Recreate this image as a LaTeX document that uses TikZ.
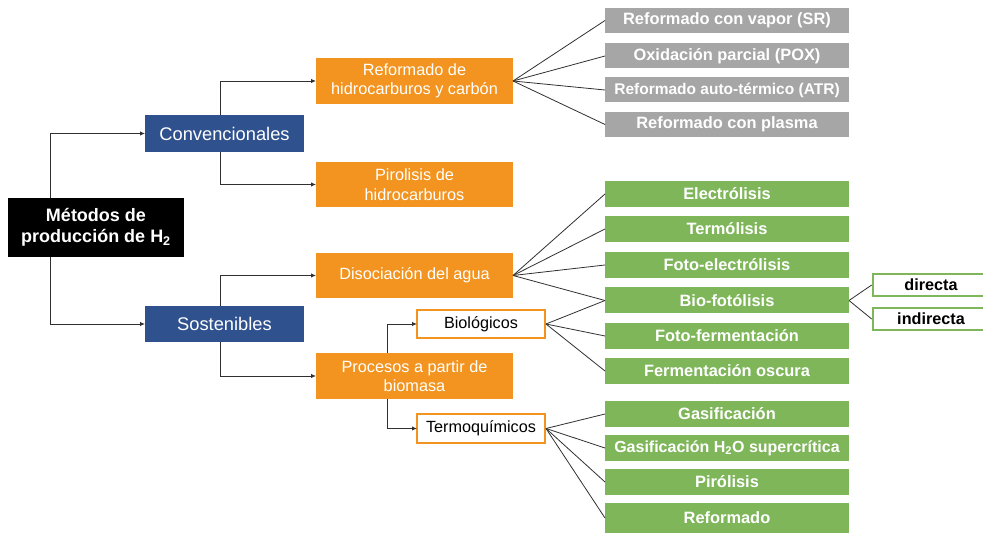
\documentclass[tikz,border=0pt]{standalone}
\usepackage{fontspec}
\setmainfont{Liberation Sans}
\usetikzlibrary{arrows.meta}
\definecolor{cblue}{HTML}{2F528F}
\definecolor{corange}{HTML}{F2941F}
\definecolor{cgrey}{HTML}{A6A6A6}
\definecolor{cgreen}{HTML}{7FB65A}
\definecolor{cline}{HTML}{303030}
\begin{document}
\begin{tikzpicture}[x=1pt,y=-1pt,
  base/.style={inner sep=0pt,outer sep=0pt,align=center},
  rootbox/.style={base,fill=black,text=white,font=\fontsize{18}{21}\selectfont\bfseries,minimum width=176pt,minimum height=59pt},
  bluebox/.style={base,fill=cblue,text=white,font=\fontsize{18.3}{21}\selectfont,minimum width=159pt,minimum height=37pt},
  orangebox/.style={base,fill=corange,text=white,font=\fontsize{16.3}{19.5}\selectfont,minimum width=197pt,minimum height=46pt},
  subbox/.style={base,fill=white,draw=corange,line width=2pt,text=black,font=\fontsize{16.2}{19}\selectfont,minimum width=128pt,minimum height=28pt},
  greybox/.style={base,fill=cgrey,text=white,font=\fontsize{16.4}{19}\selectfont\bfseries,minimum width=244pt,minimum height=25pt},
  greenbox/.style={base,fill=cgreen,text=white,font=\fontsize{16.4}{19}\selectfont\bfseries,minimum width=244pt,minimum height=26pt},
  leafbox/.style={base,fill=white,draw=cgreen,line width=2.6pt,text=black,font=\fontsize{16.2}{19}\selectfont\bfseries,minimum width=116pt,minimum height=22pt},
  arr/.style={draw=cline,line width=0.9pt,-{Latex[length=5pt,width=4.5pt]}},
  fan/.style={draw=cline,line width=0.8pt}
]
\useasboundingbox (0,0) rectangle (983,534);
% level 0
\node[rootbox] (root) at (96,227.5) {Métodos de\\producción de H\textsubscript{2}};
% level 1
\node[bluebox] (conv) at (224.5,133.5) {Convencionales};
\node[bluebox,minimum height=36pt] (sost) at (224.5,324) {Sostenibles};
% level 2
\node[orangebox] (ref) at (414.5,81) {Reformado de\\hidrocarburos y carbón};
\node[orangebox,minimum height=45pt] (piro) at (414.5,184.5) {Pirolisis de\\hidrocarburos};
\node[orangebox,minimum height=45pt] (diso) at (414.5,275.5) {Disociación del agua};
\node[orangebox] (proc) at (414.5,376) {Procesos a partir de\\biomasa};
\node[subbox] (bio) at (481,324) {Biológicos};
\node[subbox,minimum height=29pt] (termo) at (481,428.5) {Termoquímicos};
% grey leaves
\node[greybox] (sr) at (727,20.5) {Reformado con vapor (SR)};
\node[greybox] (pox) at (727,56) {Oxidación parcial (POX)};
\node[greybox,font=\fontsize{15.5}{19}\selectfont\bfseries] (atr) at (727,90) {Reformado auto-térmico (ATR)};
\node[greybox] (pla) at (727,124.5) {Reformado con plasma};
% green leaves
\node[greenbox] (elec) at (727,194) {Electrólisis};
\node[greenbox] (term) at (727,229) {Termólisis};
\node[greenbox] (fel) at (727,265) {Foto-electrólisis};
\node[greenbox] (bfo) at (727,300.5) {Bio-fotólisis};
\node[greenbox] (ffe) at (727,336) {Foto-fermentación};
\node[greenbox] (fos) at (727,371) {Fermentación oscura};
\node[greenbox] (gas) at (727,414) {Gasificación};
\node[greenbox,font=\fontsize{16}{19}\selectfont\bfseries] (gsc) at (727,448) {Gasificación H\textsubscript{2}O supercrítica};
\node[greenbox] (pir) at (727,482) {Pirólisis};
\node[greenbox,minimum height=30pt] (rfm) at (727,518) {Reformado};
\node[leafbox] (dir) at (931,285) {directa};
\node[leafbox] (ind) at (931,319) {indirecta};
% arrows
\draw[arr] ([xshift=-46pt]root.north) |- (conv.west);
\draw[arr] ([xshift=-46pt]root.south) |- (sost.west);
\draw[arr] ([xshift=-4.5pt]conv.north) |- (ref.west);
\draw[arr] ([xshift=-4.5pt]conv.south) |- (piro.west);
\draw[arr] ([xshift=-4.5pt]sost.north) |- (diso.west);
\draw[arr] ([xshift=-4.5pt]sost.south) |- (proc.west);
\draw[arr] ([xshift=-27.5pt]proc.north) |- (bio.west);
\draw[arr] ([xshift=-27.5pt]proc.south) |- (termo.west);
% fans
\foreach \t in {sr,pox,atr,pla} \draw[fan] (ref.east) -- (\t.west);
\foreach \t in {elec,term,fel,bfo} \draw[fan] (diso.east) -- (\t.west);
\foreach \t in {bfo,ffe,fos} \draw[fan] ([xshift=1pt]bio.east) -- (\t.west);
\foreach \t in {gas,gsc,pir,rfm} \draw[fan] ([xshift=1pt]termo.east) -- (\t.west);
\foreach \t in {dir,ind} \draw[fan] (bfo.east) -- ([xshift=-1.3pt]\t.west);
\end{tikzpicture}
\end{document}
